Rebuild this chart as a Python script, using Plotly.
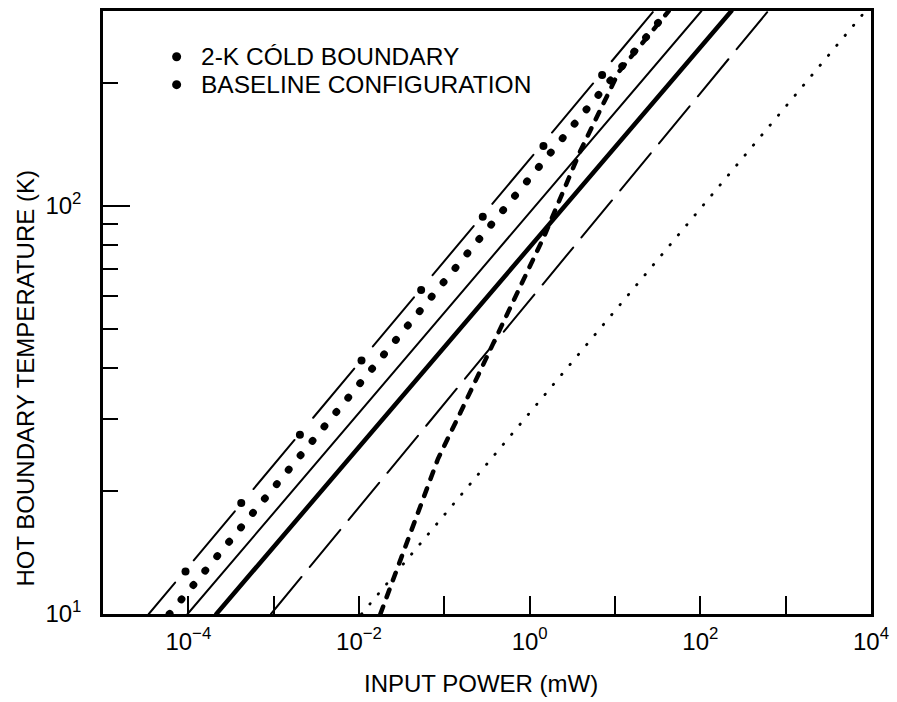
import plotly.graph_objects as go

# ---- data (input power in mW, temperature in K) ----
T_ends = [10, 300]
P_dashdot = [3.44e-5, 28.5]     # long dash-dot line
P_bigdot = [6.0e-5, 41.5]       # heavy dotted line
P_thin = [9.8e-5, 103]          # thin solid line
P_thick = [2.13e-4, 231]        # thick solid line
P_longdash = [9.3e-4, 624]      # long-dash line
P_finedot = [0.0107, 8630]      # fine dotted line

# dots sitting in the gaps of the dash-dot line
P_marks = [9.27e-5, 4.17e-4, 2.03e-3, 1.07e-2, 5.35e-2, 0.282, 1.45, 7.06]
T_marks = [12.7, 18.7, 27.5, 41.8, 62.2, 94.0, 140, 209]

# steep heavy dashed curve
P_steep = [0.0178, 0.0843, 0.156, 0.369, 1.49, 3.91, 11.1, 42.6]
T_steep = [10, 24.0, 31.3, 45.5, 84.5, 136, 213, 300]

x_tickvals = [1e-4, 1e-2, 1e0, 1e2, 1e4]
x_ticktext = ["10<sup>\u22124</sup>", "10<sup>\u22122</sup>",
              "10<sup>0</sup>", "10<sup>2</sup>", "10<sup>4</sup>"]
x_minor = [1e-5, 1e-3, 1e-1, 1e1, 1e3]
y_tickvals = [10, 100]
y_ticktext = ["10<sup>1</sup>", "10<sup>2</sup>"]
y_minor = [20, 30, 40, 50, 60, 70, 80, 90, 200]

legend_labels = ["2-K C\u00d3LD BOUNDARY", "BASELINE CONFIGURATION"]

BLACK = "#000000"
FONT = "Liberation Sans, Arial, sans-serif"

fig = go.Figure()

def line(px, py, width, dash):
    fig.add_trace(go.Scatter(x=px, y=py, mode="lines",
                             line=dict(color=BLACK, width=width, dash=dash),
                             hoverinfo="skip", showlegend=False))

# dash-dot: long dashes with gaps where the big dots sit
dd = "41px,29px," + ",".join(["64px,29px"] * 9)
line(P_dashdot, T_ends, 2.0, dd)
fig.add_trace(go.Scatter(x=P_marks, y=T_marks, mode="markers",
                         marker=dict(color=BLACK, size=8),
                         hoverinfo="skip", showlegend=False))
line(P_bigdot, T_ends, 7.5, "0.5px,18.2px")
line(P_thin, T_ends, 2.0, "solid")
line(P_thick, T_ends, 4.5, "solid")
line(P_longdash, T_ends, 2.0, "48px,13px")
line(P_finedot, T_ends, 2.8, "0.5px,12.5px")
line(P_steep, T_steep, 4.5, "8px,10px")

axis_common = dict(showgrid=False, zeroline=False, showline=True,
                   linecolor=BLACK, linewidth=2.5, mirror=True,
                   ticks="inside", tickcolor=BLACK, tickwidth=2,
                   tickfont=dict(family=FONT, size=24, color=BLACK))

fig.update_xaxes(type="log", range=[-5, 4], tickmode="array",
                 tickvals=x_tickvals, ticktext=x_ticktext, ticklen=18,
                 ticklabelstandoff=4,
                 minor=dict(tickmode="array", tickvals=x_minor, ticks="inside",
                            ticklen=18, tickwidth=2, tickcolor=BLACK),
                 **axis_common)
fig.update_yaxes(type="log", range=[1, 2.4771], tickmode="array",
                 tickvals=y_tickvals, ticktext=y_ticktext, ticklen=27,
                 ticklabelstandoff=14,
                 minor=dict(tickmode="array", tickvals=y_minor, ticks="inside",
                            ticklen=15, tickwidth=2, tickcolor=BLACK),
                 **axis_common)

W, H = 897, 702
L, R, T, B = 103, 22, 8, 88
pw, ph = W - L - R, H - T - B

def fx(px):
    return (px - L) / pw

def fy(py):
    return (H - B - py) / ph

annotations = []
shapes = []
for lab, ypix in zip(legend_labels, [54, 82]):
    annotations.append(dict(text=lab, xref="paper", yref="paper",
                            x=fx(199), y=fy(ypix), xanchor="left", yanchor="middle",
                            showarrow=False,
                            font=dict(family=FONT, size=24.5, color=BLACK)))
    shapes.append(dict(type="circle", xref="paper", yref="paper",
                       xsizemode="pixel", ysizemode="pixel",
                       xanchor=fx(177), yanchor=fy(ypix),
                       x0=-4.5, x1=4.5, y0=-4.5, y1=4.5,
                       fillcolor=BLACK, line=dict(width=0)))

annotations.append(dict(text="INPUT POWER (mW)", xref="paper", yref="paper",
                        x=fx(483), y=fy(684), xanchor="center", yanchor="middle",
                        showarrow=False, font=dict(family=FONT, size=24, color=BLACK)))
annotations.append(dict(text="HOT BOUNDARY TEMPERATURE (K)", xref="paper", yref="paper",
                        x=fx(25), y=fy(377), xanchor="center", yanchor="middle",
                        textangle=-90, showarrow=False,
                        font=dict(family=FONT, size=24, color=BLACK)))

fig.update_layout(width=W, height=H, margin=dict(l=L, r=R, t=T, b=B),
                  paper_bgcolor="white", plot_bgcolor="white",
                  showlegend=False, annotations=annotations, shapes=shapes,
                  font=dict(family=FONT, color=BLACK))

post = """
var gd = document.getElementById('{plot_id}');
gd.querySelectorAll('.scatterlayer .trace path.js-line').forEach(function(p){
  p.style.strokeLinecap = 'round';
});
"""
fig.write_html("out.html", post_script=post, config={"displayModeBar": False})
